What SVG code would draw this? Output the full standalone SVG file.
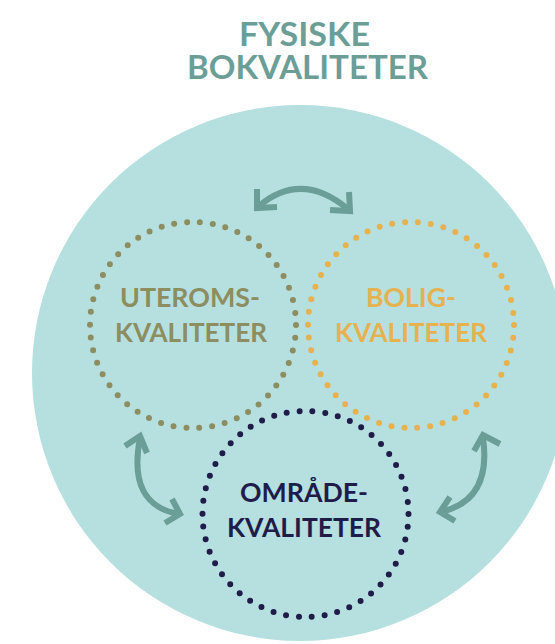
<svg xmlns="http://www.w3.org/2000/svg" width="555" height="644" viewBox="0 0 555 644">
<style>
.title{font-family:Lato,"Liberation Sans",sans-serif;font-weight:700;font-size:33px;fill:#6c9e98;text-anchor:middle}
.lbl{font-family:Lato,"Liberation Sans",sans-serif;font-weight:700;font-size:27.5px;text-anchor:middle}
.dots{fill:none;stroke-width:6;stroke-linecap:round}
.arr{fill:none;stroke:#6c9e98;stroke-width:6}
</style>
<rect width="555" height="644" fill="#ffffff"/>
<g id="title">
<text class="title" x="304.5" y="46" textLength="131" lengthAdjust="spacingAndGlyphs">FYSISKE</text>
<text class="title" x="307.5" y="79" textLength="241" lengthAdjust="spacingAndGlyphs">BOKVALITETER</text>
</g>
<g id="background">
<circle cx="300" cy="373" r="268" fill="#b5e0df"/>
</g>
<g id="connectors">
<path class="arr" d="M259,206 Q302,170 349,210"/>
<path class="arr" d="M257,189 L257,208 L277,207"/>
<path class="arr" d="M349,192 L350,211 L330,210"/>
<path class="arr" d="M140,438 Q127,505 179,514"/>
<path class="arr" d="M125,446 L140,436 L147,453"/>
<path class="arr" d="M172,499 L180,514 L165,523"/>
<path class="arr" d="M483,438 Q492,500 441,512"/>
<path class="arr" d="M500,444 L483,435 L474,451"/>
<path class="arr" d="M450,497 L440,512 L455,521"/>
</g>
<g id="uteroms">
<circle class="dots" cx="193" cy="325" r="103" stroke="#8c8d60" stroke-dasharray="0 12.94"/>
<text class="lbl" x="190" y="307" fill="#8c8d60" textLength="140" lengthAdjust="spacingAndGlyphs">UTEROMS-</text>
<text class="lbl" x="191" y="342" fill="#8c8d60" textLength="152" lengthAdjust="spacingAndGlyphs">KVALITETER</text>
</g>
<g id="bolig">
<circle class="dots" cx="411" cy="325" r="103" stroke="#e6b24f" stroke-dasharray="0 12.94"/>
<text class="lbl" x="411" y="307" fill="#e6b24f" textLength="90" lengthAdjust="spacingAndGlyphs">BOLIG-</text>
<text class="lbl" x="411" y="342" fill="#e6b24f" textLength="152" lengthAdjust="spacingAndGlyphs">KVALITETER</text>
</g>
<g id="omrade">
<circle class="dots" cx="305.5" cy="514" r="103" stroke="#1f1c4a" stroke-width="5.5" stroke-dasharray="0 12.94"/>
<text class="lbl" x="304" y="502" fill="#1f1c4a" textLength="128" lengthAdjust="spacingAndGlyphs">OMRÅDE-</text>
<text class="lbl" x="304" y="537" fill="#1f1c4a" textLength="154" lengthAdjust="spacingAndGlyphs">KVALITETER</text>
</g>
</svg>
